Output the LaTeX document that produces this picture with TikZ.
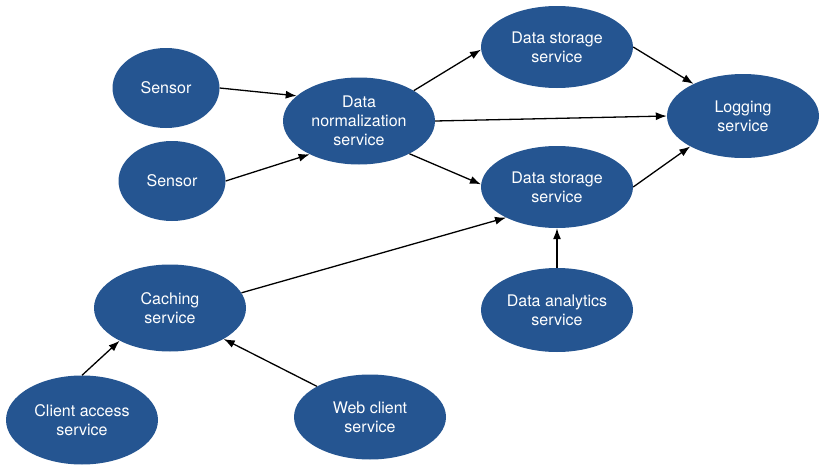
\documentclass[tikz,border=0pt]{standalone}
\usepackage{fontspec}
\setmainfont{TeX Gyre Heros}
\usetikzlibrary{shapes.geometric,arrows.meta}
\definecolor{svcblue}{RGB}{37,85,145}
\begin{document}
\begin{tikzpicture}[x=1pt,y=-1pt,
  svc/.style={ellipse,fill=svcblue,text=white,inner sep=0pt,align=center,
    minimum width=152pt,minimum height=84pt,font=\fontsize{16}{19}\selectfont},
  sens/.style={svc,minimum width=107pt,minimum height=80pt},
  flow/.style={->,>={Latex[length=11pt,width=8pt]},line width=1.3pt}]

\useasboundingbox (0,0) rectangle (831,471);

%nodes
\node[sens] (sensorA) at (166,88) {Sensor};
\node[sens] (sensorB) at (172,181) {Sensor};
\node[svc,minimum height=87pt] (normalize) at (359,121) {Data\\normalization\\service};
\node[svc,minimum height=82pt] (storeA) at (557,47) {Data storage\\service};
\node[svc,minimum height=82pt] (storeB) at (557,187) {Data storage\\service};
\node[svc] (logging) at (743,116) {Logging\\service};
\node[svc,minimum height=87pt] (caching) at (170,308) {Caching\\service};
\node[svc] (analytics) at (557,310) {Data analytics\\service};
\node[svc,minimum height=89pt] (clientacc) at (82,420) {Client access\\service};
\node[svc,minimum height=85pt] (webclient) at (370,417) {Web client\\service};

%connections
\draw[flow] (sensorA.east) -- (normalize.158);
\draw[flow] (sensorB.east) -- (normalize.214);
\draw[flow] (normalize.29) -- (storeA.182);
\draw[flow] (normalize.east) -- (logging.west);
\draw[flow] (normalize.-33) -- (storeB.178);
\draw[flow] (storeA.east) -- (logging.147);
\draw[flow] (storeB.east) -- (logging.210);
\draw[flow] (caching.12) -- (storeB.211);
\draw[flow] (analytics.north) -- (storeB.south);
\draw[flow] (clientacc.north) -- (caching.213);
\draw[flow] (webclient.150) -- (caching.-30);
\end{tikzpicture}
\end{document}
